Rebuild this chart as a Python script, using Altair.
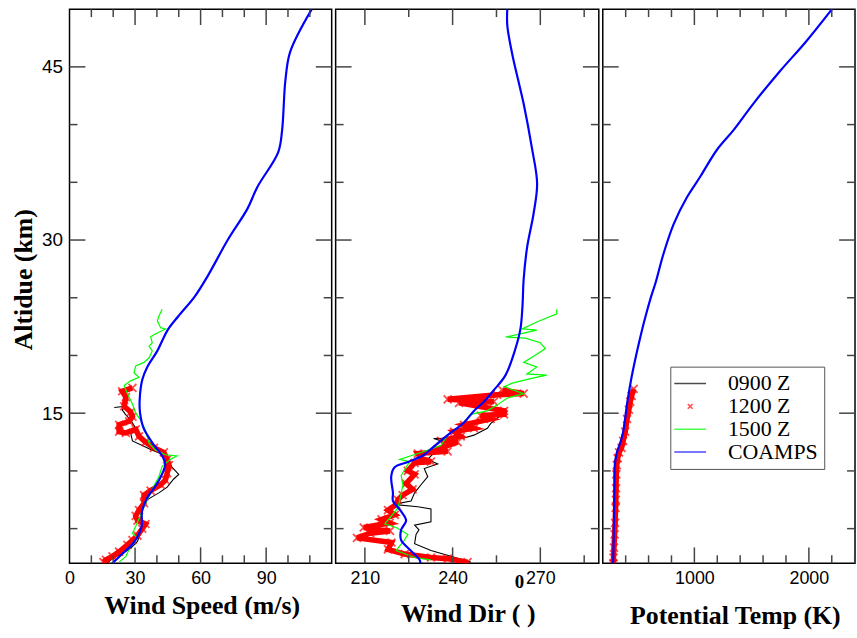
import altair as alt
import pandas as pd

SERIES = ["0900 Z", "1200 Z", "1500 Z", "COAMPS"]
COLORS = ["#000000", "#ff0000", "#00ff00", "#0000ff"]
LINE_PATH = "M-2,0L2,0"
XPATH = "M-0.3,-0.3L0.3,0.3M-0.3,0.3L0.3,-0.3"

Y_MAJOR = [15, 30, 45]
Y_MINOR = [5, 10, 20, 25, 35, 40]

# ---------------- Panel 1 : wind speed (m/s) ----------------
WS_X_MAJOR = [30, 60, 90]
WS_X_MINOR = [10, 20, 40, 50, 70, 80, 100, 110]
WS_LABELS = [0, 30, 60, 90]

WS_COAMPS_ALT = [50, 46.3, 43.8, 39.5, 37.6, 34.6, 32.7, 30.0, 26.9, 25.1, 23.4, 22.2, 20.4, 19.0,
                 17.9, 16.1, 15.0, 13.7, 12.5, 11.1, 10.5, 9.1, 7.6, 6.5, 5.1, 3.8, 2.8, 2.0]
WS_COAMPS = [110.9, 101, 98.8, 97.3, 95.5, 86, 81.4, 72.4, 63.3, 57.3, 49.8, 44.9, 40.2, 35.6,
             33.3, 32.1, 32.3, 33.9, 37.7, 43.0, 43.8, 40.7, 35.4, 33.2, 32.9, 29.4, 24.1, 19.6]

WS_0900_ALT = [15.5, 15.6, 15.3, 14.9, 14.4, 13.7, 13.3, 12.6, 12.2, 11.8, 11.4, 10.8, 10.3, 9.7,
               9.3, 8.6, 8.1, 7.6, 7.2, 6.1, 5.0, 3.9, 3.3, 2.8, 2.4, 2.0]
WS_0900 = [20.5, 25.8, 24.1, 25.6, 28.0, 30.3, 28.0, 28.8, 33.3, 37.9, 43.2, 45.5, 47.0, 50.0,
           47.7, 44.7, 40.9, 36.4, 33.3, 32.6, 33.3, 31.1, 28.0, 23.5, 19.7, 17.0]

WS_1200_ALT = [17.2, 16.9, 16.4, 15.6, 15.1, 14.7, 14.3, 14.0, 13.4, 13.3, 13.6, 13.0, 12.5, 12.0,
               11.6, 11.0, 10.5, 9.8, 9.2, 8.8, 8.3, 7.9, 7.2, 6.6, 6.1, 5.7, 5.4, 5.0, 4.4, 4.0,
               3.6, 3.0, 2.6, 2.3, 2.1]
WS_1200 = [28.8, 24.1, 25.8, 25.0, 28.0, 28.8, 27.3, 22.7, 22.7, 25.8, 30.3, 31.8, 34.8, 38.6,
           43.2, 44.7, 45.5, 44.7, 43.9, 41.7, 37.1, 34.1, 34.1, 31.8, 30.3, 31.1, 34.8, 33.3, 31.1, 28.8,
           26.5, 22.7, 19.7, 16.7, 15.5]

WS_1500_ALT = [24.0, 23.4, 23.0, 22.4, 22.3, 21.8, 21.6, 21.1, 20.8, 20.4, 19.8, 19.4, 19.1, 18.5,
               18.1, 17.8, 17.4, 17.0, 16.4, 15.8, 15.0, 14.4, 13.5, 12.4, 11.8, 11.4, 11.3, 11.0,
               10.4, 9.5, 8.7, 7.8, 6.9, 6.2, 5.2, 4.6, 4.2, 3.5, 2.6, 2.1]
WS_1500 = [42.4, 40.9, 40.2, 41.7, 43.9, 38.6, 37.1, 37.9, 36.4, 37.9, 36.4, 34.1, 30.3, 29.5,
           31.8, 28.0, 25.0, 25.8, 27.3, 28.8, 30.3, 32.6, 34.8, 36.4, 39.4, 43.9, 49.2, 46.2,
           42.4, 40.9, 38.6, 36.4, 34.1, 32.6, 30.3, 28.8, 31.1, 28.0, 25.8, 22.7]

# ---------------- Panel 2 : wind direction (deg) ----------------
WD_X_MAJOR = [210, 240, 270]
WD_X_MINOR = [225, 255, 285]
WD_LABELS = [210, 240, 270]
WD_TITLE = "Wind Dir (\u00a0)"
WD_TITLE_SUP = ["0"]

WD_COAMPS_ALT = [50, 48.6, 46.1, 41.8, 38.0, 34.9, 32.3, 29.4, 26.6, 24.3, 22.3, 20.6, 18.3, 17.0,
                 16.0, 15.2, 14.2, 13.1, 11.9, 11.4, 10.8, 10.3, 9.5, 8.1, 7.4, 6.5, 5.7, 4.9, 4.0,
                 3.2, 2.3, 2.0]
WD_COAMPS = [258.7, 258.7, 260.4, 264.3, 267.1, 268.9, 267.7, 265.5, 264.3, 263.9, 263.2, 261.5,
             258.1, 254.1, 250.7, 247.3, 243.9, 238.3, 232.6, 230.3, 225.0, 220.1, 219.0, 219.6,
             219.6, 222.4, 224.1, 222.4, 222.4, 225.3, 228.7, 229.0]

WD_0900_ALT = [15.2, 14.8, 14.1, 13.7, 13.4, 13.1, 12.85, 12.8, 12.5, 11.9, 11.0, 10.6, 10.2, 9.5,
               8.8, 8.1, 7.4, 7.1, 6.9, 6.7, 6.2, 5.6, 5.3, 4.9, 4.5, 3.7, 3.1, 2.6, 2.1]
WD_0900 = [258.7, 256.4, 253.0, 251.9, 249.6, 247.3, 243.9, 233.5, 237.2, 234.9, 231.5, 234.9,
           230.3, 231.5, 229.2, 227.0, 225.8, 219.6, 228.1, 232.6, 232.6, 232.6, 227.0, 228.5,
           227.5, 227.0, 232.6, 239.4, 246.2]

WD_1200_ALT = [17.0, 16.7, 16.6, 16.2, 16.0, 15.9, 15.2, 14.9, 14.8, 14.5, 14.0, 13.7, 13.4, 13.0,
               12.6, 12.5, 11.9, 11.7, 11.5, 11.1, 10.8, 10.7, 10.0, 9.7, 8.9, 8.4, 7.9, 7.5, 7.1,
               6.6, 6.2, 5.8, 5.5, 5.1, 4.8, 4.6, 4.2, 3.8, 3.2, 2.8, 2.5, 2.4, 2.1]
WD_1200 = [257.0, 264.3, 255.2, 238.3, 254.1, 242.2, 257.6, 257.6, 249.6, 253.0, 243.9, 247.3,
           240.5, 242.8, 236.0, 241.7, 234.9, 238.3, 228.1, 229.2, 232.6, 227.0, 224.7, 227.0,
           224.1, 226.3, 222.9, 221.3, 220.7, 217.9, 220.2, 215.7, 218.5, 209.6, 218.6, 211.8,
           207.3, 219.1, 217.9, 223.6, 232.6, 238.3, 245.1]

WD_1500_ALT = [24.0, 23.6, 22.9, 22.3, 22.2, 21.8, 21.6, 21.5, 21.1, 20.6, 20.1, 19.4, 19.0, 18.4,
               18.3, 18.0, 17.6, 17.3, 16.7, 16.3, 15.7, 15.2, 14.9, 13.9, 13.1, 12.2, 11.6, 11.0,
               10.8, 9.6, 8.8, 8.0, 6.8, 5.4, 5.1, 4.5, 4.0, 3.1, 2.5, 2.3]
WD_1500 = [275.6, 275.6, 268.8, 263.8, 268.8, 262.0, 258.1, 264.9, 270.0, 271.7, 268.8, 264.3,
           268.8, 265.4, 272.2, 266.6, 260.4, 257.6, 264.3, 258.6, 255.2, 251.8, 246.2, 242.8,
           238.3, 236.0, 229.2, 221.9, 225.3, 222.4, 223.0, 222.4, 221.3, 216.8, 220.7, 224.7,
           223.5, 220.7, 227.0, 232.6]

# ---------------- Panel 3 : potential temperature (K) ----------------
PT_X_MAJOR = [1000, 2000]
PT_X_MINOR = [400, 600, 800, 1200, 1400, 1600, 1800, 2200, 2400]
PT_LABELS = [1000, 2000]

PT_COAMPS_ALT = [50, 47.2, 44.6, 41.8, 39.5, 37.8, 35.5, 33.7, 31.4, 28.9, 26.3, 25.1, 23.7, 22.3,
                 18.5, 16.0, 13.1, 11.4, 10.5, 9.0, 6.5, 4.0, 2.0]
PT_COAMPS = [2202, 1976, 1745, 1514, 1340, 1196, 1052, 935, 820, 733, 661, 622, 582, 545,
             459, 415, 372, 318, 305, 302, 299, 295, 290]

PT_1200_ALT = [17.1, 16.5, 16.0, 15.3, 14.5, 13.4, 12.6, 12.0, 11.6, 11.1, 10.5, 9.7, 8.5, 7.5,
               6.8, 5.5, 4.5, 3.35, 2.5, 2.0]
PT_1200 = [470, 452, 440, 428, 412, 396, 378, 364, 342, 330, 322, 318, 316, 314,
           312, 308, 303, 298, 294, 292]

H = 558
TICK_COLOR = "#444444"
LABEL_FONT = "Liberation Sans"
TITLE_FONT = "Liberation Serif"
TITLE_SIZE = 26
STROKE_W = {"0900 Z": 1.1, "1200 Z": 5.5, "1500 Z": 1.2, "COAMPS": 2.2}

LEGEND = alt.Legend(title=None, orient="none", legendX=68, legendY=360,
                    labelFont=TITLE_FONT, labelFontSize=22, labelColor="black",
                    fillColor="white", strokeColor="#555555", padding=6, rowPadding=1,
                    symbolSize=256, symbolStrokeWidth=1.5, labelOffset=27, symbolOffset=3)


def series_df(name, alts, vals):
    return pd.DataFrame({"alt": alts, "val": vals, "series": name, "i": list(range(len(alts)))})


def panel(W, xdom, xmaj, xmin, xlabels, xtitle, title_kw, line_dfs, red, show_y, show_legend,
          sup=None):
    xs = alt.Scale(domain=xdom, nice=False, zero=False)
    ys = alt.Scale(domain=[2, 50], nice=False, zero=False)
    cs = alt.Scale(domain=SERIES, range=COLORS)
    shs = alt.Scale(domain=SERIES, range=[LINE_PATH, XPATH, LINE_PATH, LINE_PATH])
    leg = LEGEND if show_legend else None

    xaxis = alt.Axis(values=xlabels, ticks=False, domain=False, grid=False, labelFlush=False,
                     format="d", labelFont=LABEL_FONT, labelFontSize=18, labelColor="black",
                     labelPadding=6, title=xtitle, titleFont=TITLE_FONT, titleFontSize=TITLE_SIZE,
                     titleFontWeight="bold", titleColor="black", titleBaseline="alphabetic",
                     **title_kw)
    if show_y:
        yaxis = alt.Axis(values=Y_MAJOR, ticks=False, domain=False, grid=False,
                         labelFont=LABEL_FONT, labelFontSize=19, labelColor="black", labelPadding=7,
                         title="Altidue (km)", titleFont=TITLE_FONT, titleFontSize=TITLE_SIZE,
                         titleFontWeight="bold", titleColor="black", titleBaseline="alphabetic",
                         titleX=-38, titleY=272, titleAngle=270, titleAlign="center")
    else:
        yaxis = None

    X = lambda f: alt.X(f, scale=xs, axis=xaxis)
    Y = lambda f: alt.Y(f, scale=ys, axis=yaxis)

    layers = []
    for name, df in line_dfs:
        if name == "RED_POINTS":
            layers.append(alt.Chart(red).mark_point(filled=False, size=711, strokeWidth=1.8, clip=True).encode(
                x=X("val:Q"), y=Y("alt:Q"),
                color=alt.Color("series:N", scale=cs, legend=leg),
                shape=alt.Shape("series:N", scale=shs, legend=leg),
            ))
            continue
        interp = "catmull-rom" if name == "COAMPS" else "linear"
        layers.append(alt.Chart(df).mark_line(clip=True, strokeWidth=STROKE_W[name],
                                              interpolate=interp).encode(
            x=X("val:Q"), y=Y("alt:Q"),
            color=alt.Color("series:N", scale=cs, legend=leg),
            order=alt.Order("i:Q"),
        ))

    # inward tick marks on all four sides
    for vals, L in ((xmaj, 16), (xmin, 8)):
        d = pd.DataFrame({"v": vals})
        b = alt.Chart(d).mark_rule(color=TICK_COLOR, strokeWidth=1.5)
        layers.append(b.encode(x=X("v:Q"), y=alt.value(H), y2=alt.value(H - L)))
        layers.append(b.encode(x=X("v:Q"), y=alt.value(0), y2=alt.value(L)))
    for vals, L in ((Y_MAJOR, 16), (Y_MINOR, 8)):
        d = pd.DataFrame({"v": vals})
        b = alt.Chart(d).mark_rule(color=TICK_COLOR, strokeWidth=1.5)
        layers.append(b.encode(y=Y("v:Q"), x=alt.value(0), x2=alt.value(L)))
        layers.append(b.encode(y=Y("v:Q"), x=alt.value(W), x2=alt.value(W - L)))

    # superscript of the axis title (degree sign drawn as a raised 0)
    if sup is not None:
        layers.append(alt.Chart(pd.DataFrame({"t": sup})).mark_text(
            font=TITLE_FONT, fontSize=19, fontWeight="bold", color="black",
            align="center", baseline="alphabetic").encode(
            text="t:N", x=alt.value(185), y=alt.value(H + 25)))

    return alt.layer(*layers).properties(width=W, height=H)


ws_red = series_df("1200 Z", WS_1200_ALT, WS_1200)
wd_red = series_df("1200 Z", WD_1200_ALT, WD_1200)
pt_red = series_df("1200 Z", PT_1200_ALT, PT_1200)

p1_layers = [("0900 Z", series_df("0900 Z", WS_0900_ALT, WS_0900)),
             ("1200 Z", ws_red), ("RED_POINTS", None),
             ("1500 Z", series_df("1500 Z", WS_1500_ALT, WS_1500)),
             ("COAMPS", series_df("COAMPS", WS_COAMPS_ALT, WS_COAMPS))]
p2_layers = [("0900 Z", series_df("0900 Z", WD_0900_ALT, WD_0900)),
             ("1200 Z", wd_red), ("RED_POINTS", None),
             ("1500 Z", series_df("1500 Z", WD_1500_ALT, WD_1500)),
             ("COAMPS", series_df("COAMPS", WD_COAMPS_ALT, WD_COAMPS))]
p3_layers = [("1200 Z", pt_red), ("RED_POINTS", None),
             ("COAMPS", series_df("COAMPS", PT_COAMPS_ALT, PT_COAMPS))]

W1, W2, W3 = 264, 265, 254

c1 = panel(W1, [0, 120], WS_X_MAJOR, WS_X_MINOR, WS_LABELS, "Wind Speed (m/s)",
           dict(titleX=133, titleY=51, titleAlign="center"),
           p1_layers, ws_red, True, False)
c2 = panel(W2, [200, 290], WD_X_MAJOR, WD_X_MINOR, WD_LABELS, WD_TITLE,
           dict(titleX=133, titleY=59, titleAlign="center"),
           p2_layers, wd_red, False, False, sup=WD_TITLE_SUP)
c3 = panel(W3, [200, 2403], PT_X_MAJOR, PT_X_MINOR, PT_LABELS, "Potential Temp (K)",
           dict(titleX=133, titleY=61, titleAlign="center"),
           p3_layers, pt_red, False, True)

chart = alt.hconcat(c1, c2, c3, spacing=0).resolve_scale(
    color="independent", shape="independent"
).resolve_legend(color="independent", shape="independent").properties(
    padding={"left": 10, "top": 5, "right": 0, "bottom": 0},
    background="white",
).configure_view(stroke="black", strokeWidth=1.5)

chart.save("out.html", embed_options={"renderer": "svg", "actions": False})
